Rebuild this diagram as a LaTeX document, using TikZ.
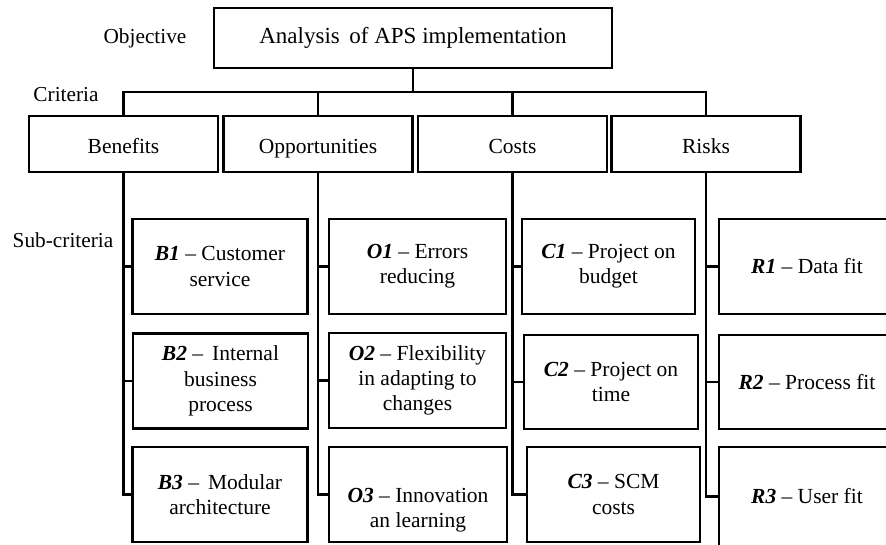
\documentclass[tikz,border=0pt]{standalone}
\usepackage{fontspec}
\setmainfont{Liberation Serif}
\newcommand{\subid}[1]{\textbf{\textit{#1}}}
\begin{document}
\begin{tikzpicture}[x=1pt,y=-1pt,line width=2.2pt,
  box/.style={draw,align=center,inner sep=0pt,font=\fontsize{21.5}{25.3}\selectfont},
  crit/.style={box,minimum width=189pt,minimum height=56pt,text height=18pt,text depth=0pt},
  sub/.style={box,minimum width=175pt,minimum height=95pt},
  lbl/.style={font=\fontsize{21.3}{25}\selectfont}]
\useasboundingbox (0,0) rectangle (886,544);
\clip (0,0) rectangle (886,544);

% levels
\node[lbl] (objlbl) at (145,38) {Objective};
\node[lbl] (critlbl) at (66,95) {Criteria};
\node[lbl] (sublbl) at (63,240) {Sub-criteria};

% objective
\node[box,minimum width=398pt,minimum height=60pt,font=\fontsize{23}{27}\selectfont] (goal) at (413,38) {Analysis\, of APS implementation};

% criteria
\node[crit] (ben) at (123.5,144) {Benefits};
\node[crit] (opp) at (318,144) {Opportunities};
\node[crit] (cost) at (512.5,144) {Costs};
\node[crit] (risk) at (706,144) {Risks};

% sub-criteria
\node[sub] (b1) at (220,266.5) {\subid{B1} -- Customer\\service};
\node[sub] (b2) at (220.5,381) {\subid{B2} --\, Internal\\business\\process};
\node[sub] (b3) at (220,494.5) {\subid{B3} --\, Modular\\architecture};

\node[sub,minimum width=177pt] (o1) at (417.5,266.5) {\subid{O1} -- Errors\\reducing};
\node[sub,minimum width=177pt] (o2) at (417.5,380.5) {\subid{O2} -- Flexibility\\in adapting to\\changes};
\node[sub,minimum width=178pt] (o3) at (418,494.5) {\mbox{}\\[20pt]\subid{O3} -- Innovation\\an learning};

\node[sub,minimum width=173pt] (c1) at (608.5,266.5) {\subid{C1} -- Project on\\budget};
\node[sub,minimum width=174pt,minimum height=94pt] (c2) at (611,382) {\subid{C2} -- Project on\\time};
\node[sub,minimum width=173pt] (c3) at (613.5,494.5) {\subid{C3} -- SCM\\costs};

\node[sub,minimum width=176pt] (r1) at (807,266.5) {\subid{R1} -- Data fit};
\node[sub,minimum width=176pt,minimum height=94pt] (r2) at (807,382) {\subid{R2} -- Process fit};
\node[sub,minimum width=176pt,minimum height=99pt] (r3) at (807,496.5) {\subid{R3} -- User fit};

% links
\coordinate (bus) at (0,92);
\draw (goal.south) -- (goal.south |- bus);
\draw (ben.north) -- (ben.north |- bus) -- (risk.north |- bus) -- (risk.north);
\draw (opp.north) -- (opp.north |- bus);
\draw (cost.north) -- (cost.north |- bus);

\draw (ben.south) -- (ben.south |- b3.west) -- (b3.west);
\draw (ben.south |- b1.west) -- (b1.west);
\draw (ben.south |- b2.west) -- (b2.west);

\draw (opp.south) -- (opp.south |- o3.west) -- (o3.west);
\draw (opp.south |- o1.west) -- (o1.west);
\draw (opp.south |- o2.west) -- (o2.west);

\draw (cost.south) -- (cost.south |- c3.west) -- (c3.west);
\draw (cost.south |- c1.west) -- (c1.west);
\draw (cost.south |- c2.west) -- (c2.west);

\draw (risk.south) -- (risk.south |- r3.west) -- (r3.west);
\draw (risk.south |- r1.west) -- (r1.west);
\draw (risk.south |- r2.west) -- (r2.west);
\end{tikzpicture}
\end{document}
